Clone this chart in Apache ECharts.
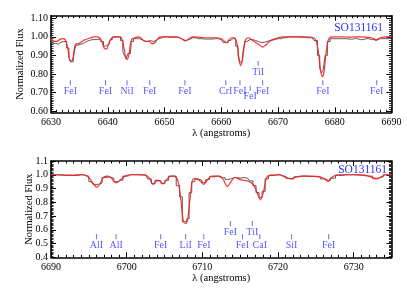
<!DOCTYPE html>
<html><head><meta charset="utf-8">
<script src="https://cdn.jsdelivr.net/npm/echarts@6/dist/echarts.min.js"></script>
<style>html,body{margin:0;padding:0;background:#fff}#c{width:407px;height:291px}</style>
</head><body><div id="c"></div>
<script>
// ---------- Top panel data ----------
const topWave = [6630.0,6630.5,6631.0,6631.5,6632.0,6632.5,6633.0,6633.3,6633.6,6633.9,6634.2,6634.5,6635.0,6635.5,6636.0,6636.5,6637.0,6637.5,6638.0,6638.5,6639.0,6639.5,6639.8,6640.2,6640.6,6641.0,6641.5,6642.0,6642.5,6642.8,6643.1,6643.4,6643.7,6644.0,6644.3,6644.8,6645.3,6645.8,6646.3,6646.8,6647.3,6647.8,6648.2,6648.7,6649.2,6650,6651,6652,6653,6653.7,6654.3,6655,6656,6657,6658,6659,6660,6660.6,6661.0,6661.4,6661.8,6662.3,6662.8,6663.1,6663.4,6663.7,6664.0,6664.3,6664.8,6665.3,6665.8,6666.3,6666.8,6667.3,6667.8,6668.3,6669,6670,6671,6672,6673,6674,6675,6676,6676.7,6677.2,6677.5,6677.8,6678.1,6678.5,6678.9,6679.5,6680.5,6681.5,6682.5,6683.5,6684.5,6685.5,6686.5,6687.3,6688,6689,6690];
const topModel = [1.0,0.975,0.975,0.985,0.99,0.985,0.93,0.875,0.868,0.89,0.95,0.962,0.965,0.975,0.985,0.99,0.995,1.0,1.0,0.995,0.97,0.935,0.935,0.965,0.99,1.0,1.0,1.0,0.99,0.95,0.90,0.878,0.90,0.96,0.99,0.995,1.0,0.995,0.98,0.975,0.975,0.962,0.965,0.985,1.0,1.0,1.0,1.0,0.99,0.978,0.99,1.0,0.998,0.995,0.995,0.995,0.99,0.975,0.968,0.985,0.995,0.995,0.96,0.89,0.845,0.87,0.94,0.985,0.995,0.985,0.975,0.965,0.955,0.945,0.955,0.97,0.985,0.995,1.0,1.0,1.0,1.0,1.0,0.998,0.98,0.90,0.82,0.785,0.81,0.92,0.985,1.0,1.0,1.0,0.998,1.0,1.0,0.998,0.995,0.985,0.995,1.0,1.0];
const topObs = [0.99,0.965,0.96,0.97,0.975,0.975,0.94,0.89,0.865,0.865,0.91,0.955,0.96,0.965,0.975,0.98,0.985,0.985,0.985,0.99,0.975,0.95,0.948,0.96,0.985,0.998,1.0,1.0,0.98,0.92,0.90,0.88,0.91,0.91,0.975,0.99,0.99,0.985,0.975,0.975,0.98,0.975,0.98,0.99,0.995,1.0,0.998,0.998,0.99,0.98,0.985,0.995,0.99,0.988,0.988,0.99,0.985,0.97,0.968,0.98,0.99,0.99,0.95,0.90,0.86,0.87,0.92,0.975,0.985,0.985,0.98,0.975,0.97,0.97,0.975,0.98,0.985,0.99,0.995,1.0,1.0,0.998,0.995,0.995,0.98,0.90,0.83,0.805,0.82,0.90,0.975,0.99,0.99,0.99,0.988,0.99,0.985,0.99,0.985,0.98,0.99,0.99,0.995];
const topXTicks = [6630,6640,6650,6660,6670,6680,6690];
const topYTicks = [0.60,0.70,0.80,0.90,1.00,1.10];
const topLineWave = [6633.4,6639.6,6643.4,6647.4,6653.6,6660.8,6663.3,6665.1,6666.5,6667.3,6677.9,6687.4];
const topLineName = ["FeI","FeI","NiI","FeI","FeI","CrI","FeI","FeI","TiI","FeI","FeI","FeI"];
const topLineTier = [0,0,0,0,0,0,0,-1,1,0,0,0];

// ---------- Bottom panel data ----------
const botWave = [6690,6691,6692,6693,6694,6694.7,6695.3,6695.8,6696.1,6696.5,6697.0,6697.5,6698.0,6698.6,6699.2,6699.8,6700.5,6701.5,6702.5,6703.0,6703.5,6704.0,6704.3,6704.8,6705.3,6705.8,6706.3,6706.8,6707.2,6707.5,6707.8,6708.1,6708.4,6708.8,6709.2,6709.7,6710.2,6710.7,6711.2,6712,6712.7,6713.3,6713.8,6714.3,6715.0,6715.5,6716.0,6716.5,6716.9,6717.3,6717.7,6718.1,6718.5,6719,6720,6720.7,6721.3,6721.8,6722.4,6723.2,6724.2,6725.2,6726.0,6726.6,6727.2,6728,6729,6730,6731,6732,6733,6733.6,6734.2,6735];
const botModel = [1.0,1.0,0.997,0.998,1.0,0.995,0.96,0.92,0.91,0.935,0.985,0.99,0.975,0.94,0.965,0.99,1.0,1.0,0.998,0.975,0.93,0.955,0.955,0.935,0.965,0.99,0.99,0.95,0.80,0.66,0.645,0.69,0.84,0.97,0.97,0.955,0.93,0.965,0.99,0.99,0.97,0.915,0.95,0.98,0.965,0.96,0.955,0.94,0.915,0.86,0.818,0.88,0.98,0.998,1.0,0.99,0.975,0.97,0.985,0.99,0.99,0.988,0.975,0.952,0.985,1.0,1.0,1.0,0.998,0.99,0.97,0.98,1.0,0.998];
const botObs = [1.0,0.998,0.995,0.995,1.0,0.99,0.95,0.93,0.93,0.94,0.98,0.985,0.975,0.95,0.96,0.99,1.0,1.0,0.998,0.97,0.935,0.96,0.955,0.935,0.96,0.99,0.99,0.92,0.84,0.66,0.66,0.68,0.87,0.95,0.97,0.96,0.945,0.965,0.985,0.99,0.98,0.965,0.97,0.98,0.975,0.98,0.975,0.955,0.92,0.87,0.835,0.88,0.97,0.995,1.0,0.99,0.975,0.97,0.985,0.99,0.988,0.985,0.97,0.96,0.975,0.995,1.0,1.0,0.998,0.99,0.975,0.985,1.0,1.0];
const botXTicks = [6690,6700,6710,6720,6730];
const botYTicks = [0.4,0.5,0.6,0.7,0.8,0.9,1.0,1.1];
const botLineWave = [6696.0,6698.6,6704.5,6707.8,6710.2,6713.7,6715.3,6716.6,6717.6,6721.8,6726.7];
const botLineName = ["AlI","AlI","FeI","LiI","FeI","FeI","FeI","TiI","CaI","SiI","FeI"];
const botLineTier = [0,0,0,0,0,1,0,1,0,0,0];

const starName = "SO131161";

// ---------- build ----------
const FONT = "Liberation Serif";
const BLUE = "#2d2dff";
function range(a, b, s) { const r = []; const n = Math.round((b - a) / s); for (let i = 0; i <= n; i++) r.push(+(a + i * s).toFixed(4)); return r; }

const panels = [
  { wave: topWave, model: topModel, obs: topObs, xt: topXTicks, yt: topYTicks, xmin: 6630, xmax: 6690, ymin: 0.593, ymax: 1.114,
    lw: topLineWave, ln: topLineName, lt: topLineTier, tierY: {"-1": 0.723, "0": 0.753, "1": 0.856}, ydec: 2, nameGapY: 25,
    grid: { left: 51, right: 15.5, top: 15.7, height: 96.6 }, titleRight: 24, titleTop: 21.5 },
  { wave: botWave, model: botModel, obs: botObs, xt: botXTicks, yt: botYTicks, xmin: 6690, xmax: 6735, ymin: 0.4, ymax: 1.1,
    lw: botLineWave, ln: botLineName, lt: botLineTier, tierY: {"0": 0.549, "1": 0.645}, ydec: 1, nameGapY: 16,
    grid: { left: 51, right: 15.5, top: 161, height: 96.3 }, titleRight: 20, titleTop: 163.5 }
];

const grids = [], xAxes = [], yAxes = [], series = [], titles = [];
panels.forEach((p, g) => {
  grids.push(Object.assign({ containLabel: false }, p.grid));
  const xMinor = range(p.xmin, p.xmax, 1);
  const yMinor = range(Math.ceil(p.ymin * 100) / 100, Math.floor(p.ymax * 100) / 100, 0.01);
  const xi = xAxes.length, yi = yAxes.length;
  const lbl = { fontFamily: FONT, fontSize: 10, color: "#000" };
  xAxes.push({ type: "value", gridIndex: g, min: p.xmin, max: p.xmax, position: "bottom",
    axisLine: { show: true, onZero: false, lineStyle: { color: "#000", width: 1.6 } },
    axisTick: { show: true, inside: true, length: 5, customValues: p.xt, lineStyle: { color: "#000", width: 1 } },
    axisLabel: Object.assign({ show: true, margin: 5, customValues: p.xt, formatter: v => String(Math.round(v)) }, lbl),
    splitLine: { show: false },
    name: "\u03bb (angstroms)", nameLocation: "middle", nameGap: 15, nameMoveOverlap: false,
    nameTextStyle: { fontFamily: FONT, fontSize: 10.5, color: "#000" } });
  xAxes.push({ type: "value", gridIndex: g, min: p.xmin, max: p.xmax, position: "bottom",
    axisLine: { show: false }, axisLabel: { show: false }, splitLine: { show: false },
    axisTick: { show: true, inside: true, length: 2.5, customValues: xMinor, lineStyle: { color: "#000", width: 1 } } });
  xAxes.push({ type: "value", gridIndex: g, min: p.xmin, max: p.xmax, position: "top",
    axisLine: { show: true, onZero: false, lineStyle: { color: "#000", width: 1.6 } }, axisLabel: { show: false }, splitLine: { show: false },
    axisTick: { show: true, inside: true, length: 5, customValues: p.xt, lineStyle: { color: "#000", width: 1 } } });
  xAxes.push({ type: "value", gridIndex: g, min: p.xmin, max: p.xmax, position: "top",
    axisLine: { show: false }, axisLabel: { show: false }, splitLine: { show: false },
    axisTick: { show: true, inside: true, length: 2.5, customValues: xMinor, lineStyle: { color: "#000", width: 1 } } });
  yAxes.push({ type: "value", gridIndex: g, min: p.ymin, max: p.ymax, position: "left",
    axisLine: { show: true, onZero: false, lineStyle: { color: "#000", width: 1.6 } },
    axisTick: { show: true, inside: true, length: 5, customValues: p.yt, lineStyle: { color: "#000", width: 1 } },
    axisLabel: Object.assign({ show: true, margin: 3, customValues: p.yt, formatter: v => v.toFixed(p.ydec) }, lbl),
    splitLine: { show: false },
    name: "Normalized Flux", nameLocation: "middle", nameGap: p.nameGapY, nameMoveOverlap: false,
    nameTextStyle: { fontFamily: FONT, fontSize: 10.5, color: "#000" } });
  yAxes.push({ type: "value", gridIndex: g, min: p.ymin, max: p.ymax, position: "left",
    axisLine: { show: false }, axisLabel: { show: false }, splitLine: { show: false },
    axisTick: { show: true, inside: true, length: 2.5, customValues: yMinor, lineStyle: { color: "#000", width: 0.8 } } });
  yAxes.push({ type: "value", gridIndex: g, min: p.ymin, max: p.ymax, position: "right",
    axisLine: { show: true, onZero: false, lineStyle: { color: "#000", width: 1.6 } }, axisLabel: { show: false }, splitLine: { show: false },
    axisTick: { show: true, inside: true, length: 5, customValues: p.yt, lineStyle: { color: "#000", width: 1 } } });
  yAxes.push({ type: "value", gridIndex: g, min: p.ymin, max: p.ymax, position: "right",
    axisLine: { show: false }, axisLabel: { show: false }, splitLine: { show: false },
    axisTick: { show: true, inside: true, length: 2.5, customValues: yMinor, lineStyle: { color: "#000", width: 0.8 } } });

  series.push({ type: "line", xAxisIndex: xi, yAxisIndex: yi, step: "middle", symbol: "none", silent: true,
    lineStyle: { color: "#5a5a5a", width: 1 }, data: p.wave.map((w, i) => [w, p.obs[i]]), z: 2 });
  series.push({ type: "line", xAxisIndex: xi, yAxisIndex: yi, smooth: 0.3, symbol: "none", silent: true,
    lineStyle: { color: "#ff1a1a", width: 1.2, opacity: 0.9 }, data: p.wave.map((w, i) => [w, p.model[i]]), z: 3 });
  series.push({ type: "scatter", xAxisIndex: xi, yAxisIndex: yi, symbol: "rect", symbolSize: [0.9, 5], silent: true,
    itemStyle: { color: BLUE },
    label: { show: true, position: "bottom", distance: 1, formatter: "{b}", fontFamily: FONT, fontSize: 10, color: BLUE },
    data: p.lw.map((w, i) => ({ name: p.ln[i], value: [w, p.tierY[String(p.lt[i])]] })), z: 4 });
  titles.push({ text: starName, right: p.titleRight, top: p.titleTop, padding: 0,
    textStyle: { fontFamily: FONT, fontSize: 11.5, fontWeight: "normal", color: BLUE } });
});

const chart = echarts.init(document.getElementById("c"), null, { renderer: "canvas" });
chart.setOption({ animation: false, backgroundColor: "#fff", title: titles, grid: grids, xAxis: xAxes, yAxis: yAxes, series: series });
</script>
</body></html>
